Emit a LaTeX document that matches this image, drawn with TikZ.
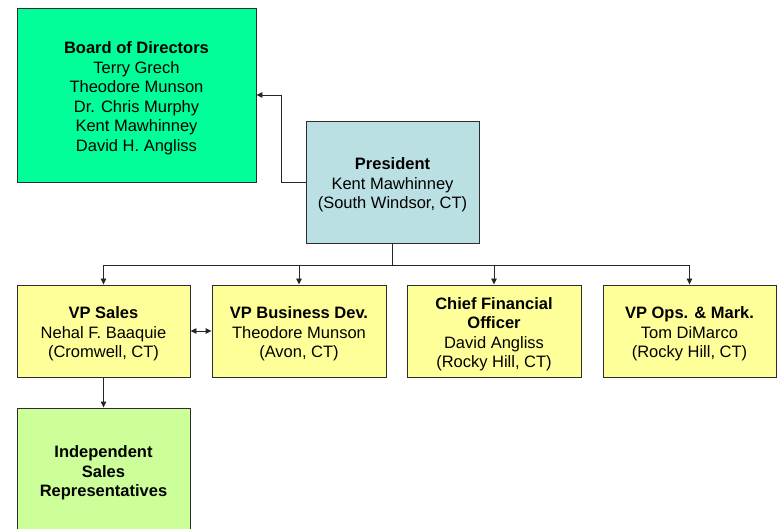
\documentclass[tikz,border=0pt]{standalone}
\usepackage{fontspec}
\setmainfont{Liberation Sans}
\usetikzlibrary{arrows.meta}
\definecolor{boardgreen}{RGB}{0,255,153}
\definecolor{presblue}{RGB}{187,224,227}
\definecolor{vpyellow}{RGB}{255,255,153}
\definecolor{repgreen}{RGB}{204,255,153}
\definecolor{edgegray}{RGB}{45,45,45}
\newcommand{\topgap}{\rule{0pt}{18pt}}
\tikzset{
  box/.style={draw=edgegray, line width=0.9pt, align=center, inner sep=0pt,
    font=\fontsize{16.5}{19.5}\selectfont},
  conn/.style={draw=black!85, line width=0.9pt},
  arr/.style={conn, -{Triangle[length=6pt,width=5.5pt]}},
  darr/.style={conn, {Triangle[length=6pt,width=5.5pt]}-{Triangle[length=6pt,width=5.5pt]}}
}
\begin{document}
\begin{tikzpicture}[x=1pt,y=-1pt]
\useasboundingbox (0,0) rectangle (777,529);
\clip (0,0) rectangle (777,529);
\node[box, fill=boardgreen, minimum width=239pt, minimum height=174pt] (board) at (136.5,95)
  {\topgap\textbf{Board of Directors}\\Terry Grech\\Theodore Munson\\Dr. Chris Murphy\\Kent Mawhinney\\David H. Angliss};
\node[box, fill=presblue, minimum width=173pt, minimum height=122pt] (pres) at (392.5,182)
  {\topgap\textbf{President}\\Kent Mawhinney\\(South Windsor, CT)};
\node[box, fill=vpyellow, minimum width=173pt, minimum height=92pt] (vps) at (103.5,331)
  {\topgap\textbf{VP Sales}\\Nehal F. Baaquie\\(Cromwell, CT)};
\node[box, fill=vpyellow, minimum width=174pt, minimum height=92pt] (vpb) at (299,331)
  {\topgap\textbf{VP Business Dev.}\\Theodore Munson\\(Avon, CT)};
\node[box, fill=vpyellow, minimum width=174pt, minimum height=92pt] (cfo) at (494,331)
  {\topgap\textbf{Chief Financial}\\\textbf{Officer}\\David Angliss\\(Rocky Hill, CT)};
\node[box, fill=vpyellow, minimum width=173pt, minimum height=92pt] (ops) at (689.5,331)
  {\topgap\textbf{VP Ops. \& Mark.}\\Tom DiMarco\\(Rocky Hill, CT)};
\node[box, fill=repgreen, minimum width=173pt, minimum height=124pt] (ind) at (103.5,470)
  {\topgap\textbf{Independent}\\\textbf{Sales}\\\textbf{Representatives}};
\coordinate (bus) at (392.5,265);
\coordinate (bend) at (281,182);
\draw[arr] (pres.west) -- (bend) |- (board.east);
\draw[conn] (pres.south) -- (bus);
\draw[arr] (bus) -| (vps.north);
\draw[arr] (bus) -| (vpb.north);
\draw[arr] (bus) -| (cfo.north);
\draw[arr] (bus) -| (ops.north);
\draw[darr] (vps.east) -- (vpb.west);
\draw[arr] (vps.south) -- (ind.north);
\end{tikzpicture}
\end{document}
